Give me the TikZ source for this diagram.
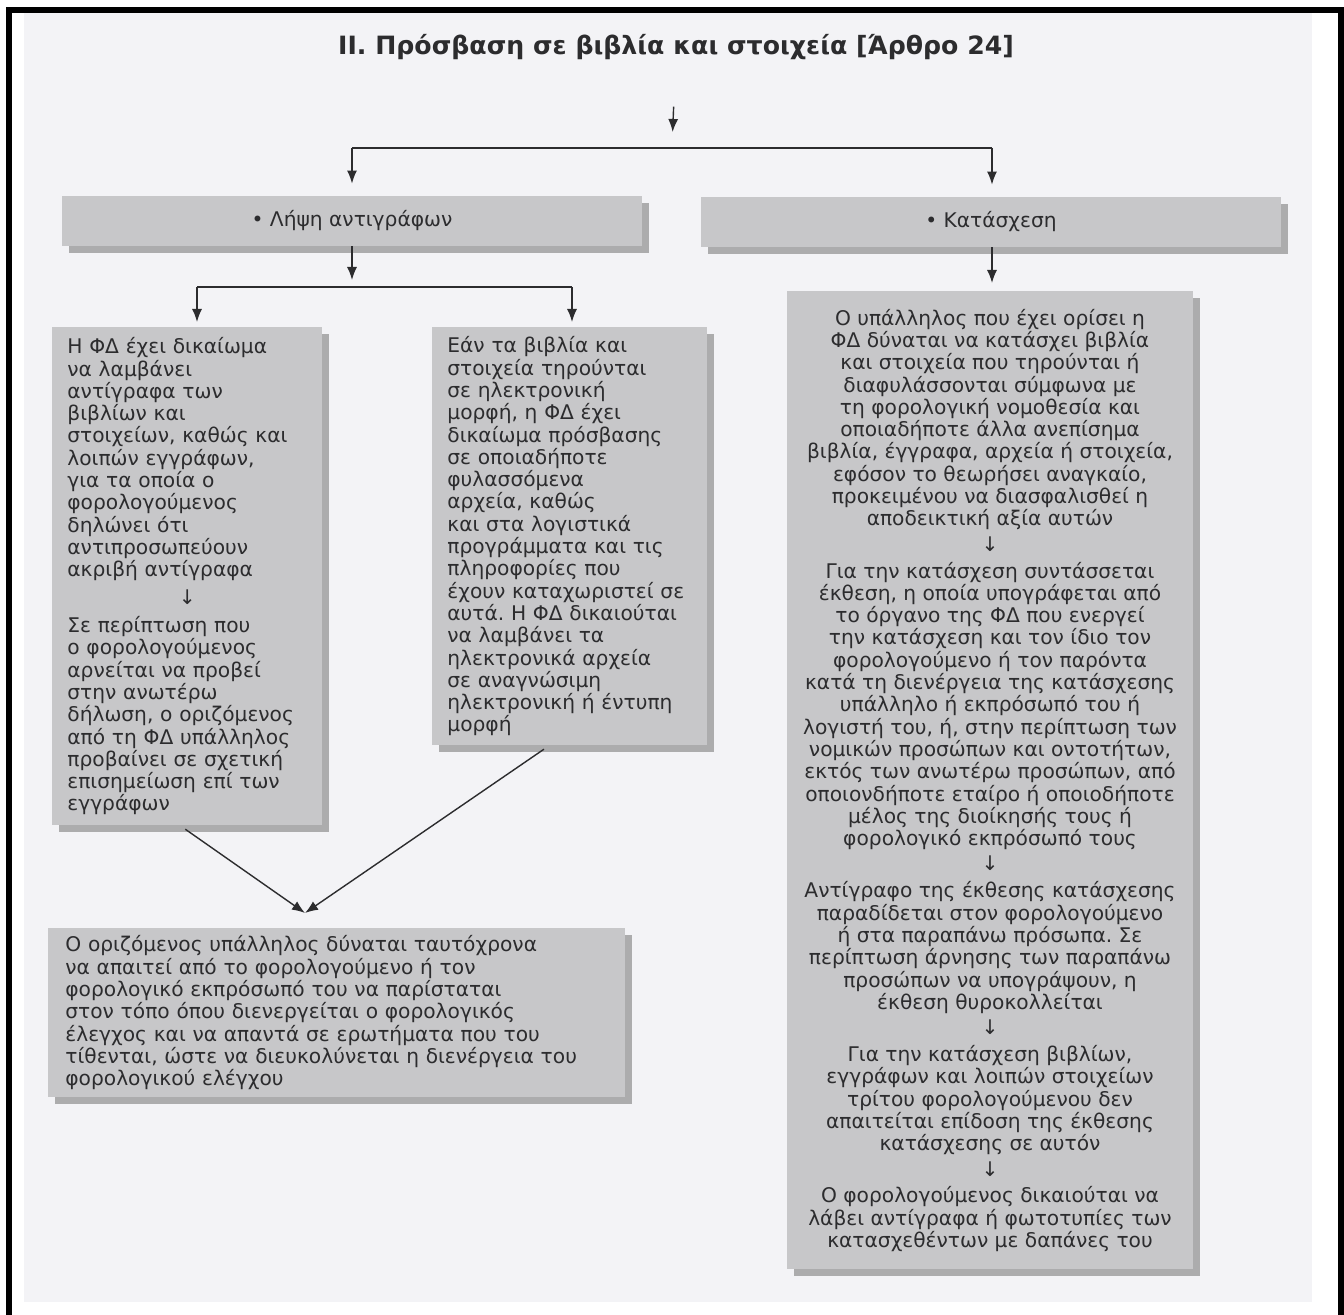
\documentclass[tikz,border=0pt]{standalone}
\usepackage{fontspec}
\setmainfont{DejaVu Sans}
\usetikzlibrary{arrows.meta,shadows}
\frenchspacing

\definecolor{boxgray}{RGB}{199,199,201}
\definecolor{inkgray}{RGB}{44,44,46}
\definecolor{paper}{RGB}{243,243,246}

\tikzset{
  box/.style={fill=boxgray, text=inkgray, inner sep=0pt,
    font=\fontsize{10.1}{11.15}\selectfont,
    drop shadow={shadow xshift=3.5pt, shadow yshift=-3.5pt, opacity=0.5, fill=black!60}},
  hdr/.style={box, minimum width=290pt, minimum height=25pt},
  para/.style={box, align=left, inner xsep=7.5pt, anchor=north west},
  arr/.style={draw=inkgray, line width=0.7pt, -{Latex[length=6.5pt,width=5pt]}},
  link/.style={draw=inkgray, line width=0.7pt}
}

\begin{document}
\begin{tikzpicture}[x=0.5pt, y=-0.5pt]
    % σελίδα και πλαίσιο
    \useasboundingbox (0,0) rectangle (1344,1315);
    \fill[white] (0,0) rectangle (1344,1315);
    \fill[paper] (24,13) rectangle (1312,1302);
    \draw[black, line width=3pt] (9,1315) -- (9,10) -- (1341,10) -- (1341,1315);

    % τίτλος
    \node[text=inkgray, font=\bfseries\fontsize{12.6}{14}\selectfont] (title) at (676,47)
        {II. Πρόσβαση σε βιβλία και στοιχεία [Άρθρο 24]};

    % κεφαλίδες
    \node[hdr] (hdrL) at (352,221) {• Λήψη αντιγράφων};
    \node[hdr] (hdrR) at (991,222) {• Κατάσχεση};

    % κουτιά
    \node[para, text width=120pt, minimum height=249pt] (copyA) at (52,327) {%
        Η ΦΔ έχει δικαίωμα\\
        να λαμβάνει\\
        αντίγραφα των\\
        βιβλίων και\\
        στοιχείων, καθώς και\\
        λοιπών εγγράφων,\\
        για τα οποία ο\\
        φορολογούμενος\\
        δηλώνει ότι\\
        αντιπροσωπεύουν\\
        ακριβή αντίγραφα\\[2.8pt]
        \makebox[\linewidth]{↓}\\[2.8pt]
        Σε περίπτωση που\\
        ο φορολογούμενος\\
        αρνείται να προβεί\\
        στην ανωτέρω\\
        δήλωση, ο οριζόμενος\\
        από τη ΦΔ υπάλληλος\\
        προβαίνει σε σχετική\\
        επισημείωση επί των\\
        εγγράφων};

    \node[para, text width=122.5pt, minimum height=209pt] (copyB) at (432,327) {%
        Εάν τα βιβλία και\\
        στοιχεία τηρούνται\\
        σε ηλεκτρονική\\
        μορφή, η ΦΔ έχει\\
        δικαίωμα πρόσβασης\\
        σε οποιαδήποτε\\
        φυλασσόμενα\\
        αρχεία, καθώς\\
        και στα λογιστικά\\
        προγράμματα και τις\\
        πληροφορίες που\\
        έχουν καταχωριστεί σε\\
        αυτά. Η ΦΔ δικαιούται\\
        να λαμβάνει τα\\
        ηλεκτρονικά αρχεία\\
        σε αναγνώσιμη\\
        ηλεκτρονική ή έντυπη\\
        μορφή};

    \node[box, align=center, minimum width=203pt, minimum height=489pt, anchor=north] (seize) at (990,291) {%
        Ο υπάλληλος που έχει ορίσει η\\
        ΦΔ δύναται να κατάσχει βιβλία\\
        και στοιχεία που τηρούνται ή\\
        διαφυλάσσονται σύμφωνα με\\
        τη φορολογική νομοθεσία και\\
        οποιαδήποτε άλλα ανεπίσημα\\
        βιβλία, έγγραφα, αρχεία ή στοιχεία,\\
        εφόσον το θεωρήσει αναγκαίο,\\
        προκειμένου να διασφαλισθεί η\\
        αποδεικτική αξία αυτών\\[1.5pt]
        ↓\\[2.3pt]
        Για την κατάσχεση συντάσσεται\\
        έκθεση, η οποία υπογράφεται από\\
        το όργανο της ΦΔ που ενεργεί\\
        την κατάσχεση και τον ίδιο τον\\
        φορολογούμενο ή τον παρόντα\\
        κατά τη διενέργεια της κατάσχεσης\\
        υπάλληλο ή εκπρόσωπό του ή\\
        λογιστή του, ή, στην περίπτωση των\\
        νομικών προσώπων και οντοτήτων,\\
        εκτός των ανωτέρω προσώπων, από\\
        οποιονδήποτε εταίρο ή οποιοδήποτε\\
        μέλος της διοίκησής τους ή\\
        φορολογικό εκπρόσωπό τους\\[1.5pt]
        ↓\\[2.3pt]
        Αντίγραφο της έκθεσης κατάσχεσης\\
        παραδίδεται στον φορολογούμενο\\
        ή στα παραπάνω πρόσωπα. Σε\\
        περίπτωση άρνησης των παραπάνω\\
        προσώπων να υπογράψουν, η\\
        έκθεση θυροκολλείται\\[1.5pt]
        ↓\\[2.3pt]
        Για την κατάσχεση βιβλίων,\\
        εγγράφων και λοιπών στοιχείων\\
        τρίτου φορολογούμενου δεν\\
        απαιτείται επίδοση της έκθεσης\\
        κατάσχεσης σε αυτόν\\[1.5pt]
        ↓\\[2.3pt]
        Ο φορολογούμενος δικαιούται να\\
        λάβει αντίγραφα ή φωτοτυπίες των\\
        κατασχεθέντων με δαπάνες του};

    \node[para, inner xsep=8.5pt, text width=271.5pt, minimum height=84.5pt] (attend) at (48,928) {%
        Ο οριζόμενος υπάλληλος δύναται ταυτόχρονα\\
        να απαιτεί από το φορολογούμενο ή τον\\
        φορολογικό εκπρόσωπό του να παρίσταται\\
        στον τόπο όπου διενεργείται ο φορολογικός\\
        έλεγχος και να απαντά σε ερωτήματα που του\\
        τίθενται, ώστε να διευκολύνεται η διενέργεια του\\
        φορολογικού ελέγχου};

    % διακλαδώσεις
    \coordinate (split0) at (672,148);
    \coordinate (split0L) at (352,148);
    \coordinate (split0R) at (992,148);
    \coordinate (split1) at (352,287);
    \coordinate (split1L) at (197,287);
    \coordinate (split1R) at (572,287);
    \coordinate (meet) at (305,913);

    \draw[arr, shorten <=20pt, shorten >=8pt] (title) -- (split0);
    \draw[link] (split0L) -- (split0R);
    \draw[arr, shorten >=6pt] (split0L) -- (hdrL);
    \draw[arr, shorten >=6pt] (split0R) -- (split0R |- hdrR.north);

    \draw[arr, shorten >=3.5pt] (hdrL) -- (split1);
    \draw[link] (split1L) -- (split1R);
    \draw[arr, shorten >=2.5pt] (split1L) -- (split1L |- copyA.north);
    \draw[arr, shorten >=2.5pt] (split1R) -- (split1R |- copyB.north);

    \draw[arr, shorten >=4pt] (hdrR.south -| split0R) -- (split0R |- seize.north);

    \draw[arr, shorten <=3pt] ([xshift=-3.5pt]copyA.south) -- (meet);
    \draw[arr, shorten <=3pt] ([xshift=-10.5pt]copyB.south) -- (meet);
\end{tikzpicture}
\end{document}
